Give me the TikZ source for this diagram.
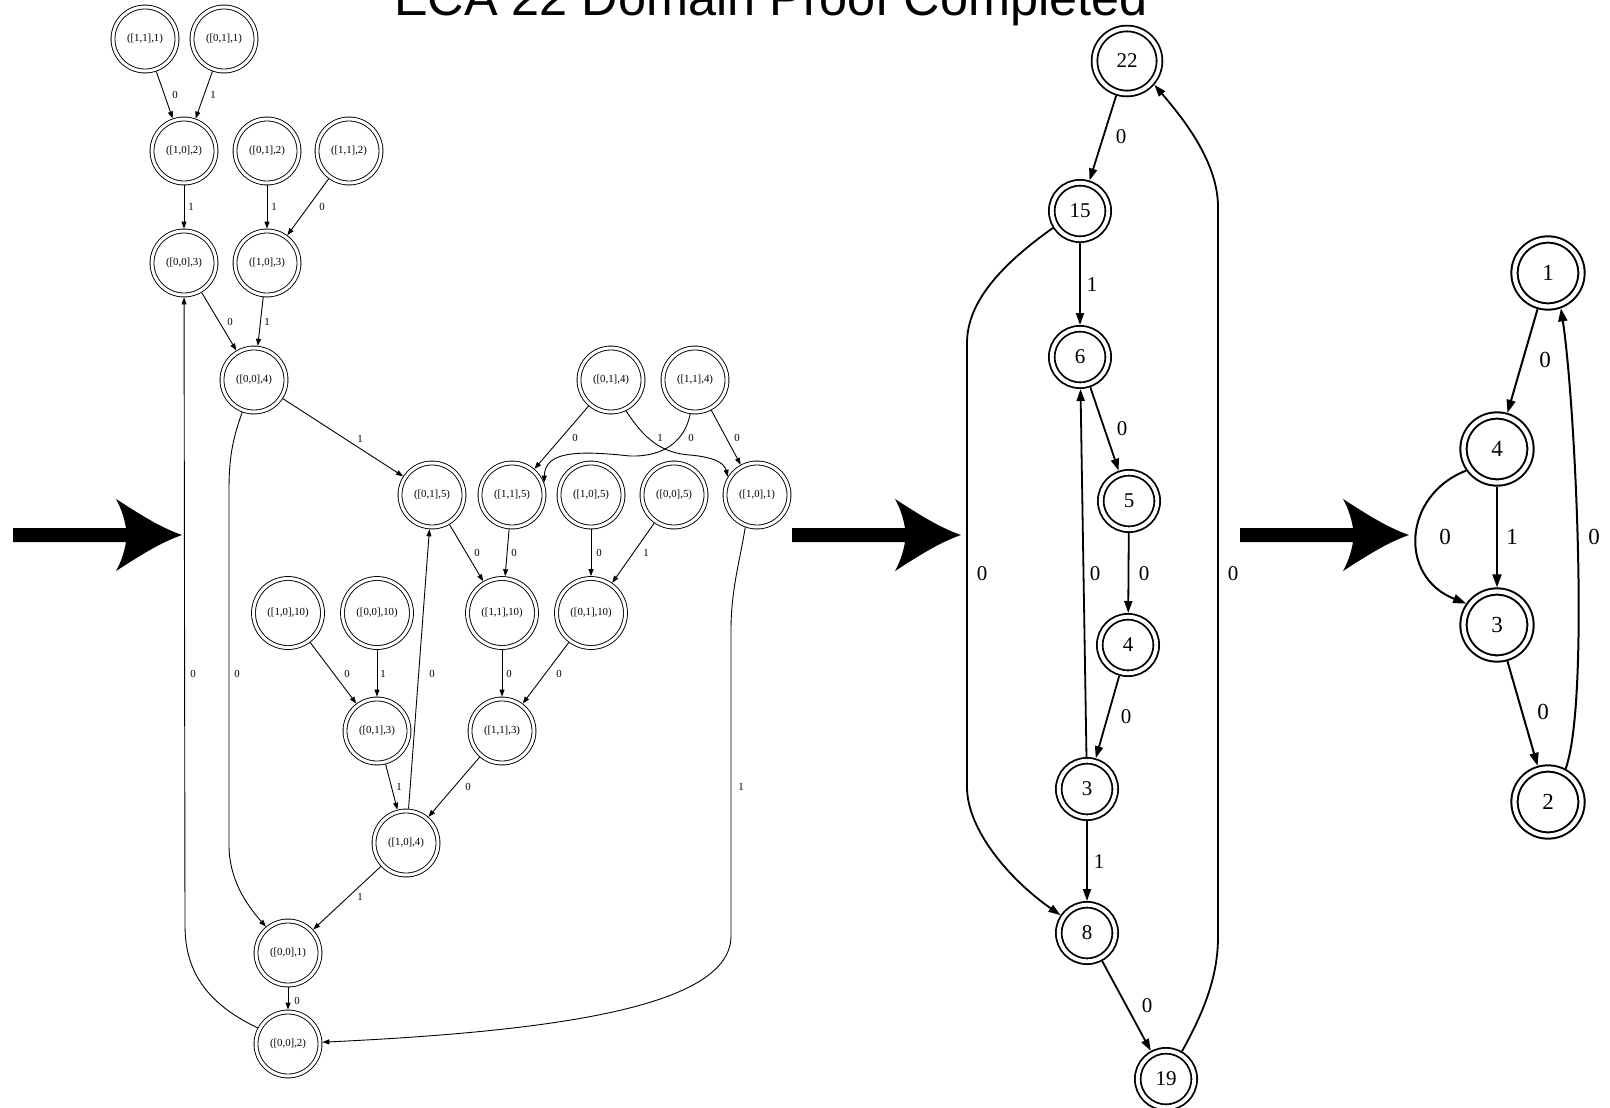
\documentclass[tikz,border=0pt]{standalone}
\usepackage{fontspec}
\setmainfont{Liberation Serif}
\newfontfamily\titlefont{Liberation Sans}
\usetikzlibrary{arrows.meta}
\begin{document}
\begin{tikzpicture}[x=1pt,y=-1pt,
 lnode/.style={circle,draw,double,line width=0.9pt,double distance=3pt,minimum size=64pt,inner sep=0pt,outer sep=2.4pt,font=\fontsize{10.8}{12}\selectfont},
 lnodew/.style={lnode,minimum size=69pt},
 ledge/.style={line width=0.9pt,-{Triangle[length=7pt,width=5pt]}},
 llab/.style={font=\fontsize{10.8}{12}\selectfont,inner sep=0pt},
 mnode/.style={circle,draw,double,line width=1.8pt,double distance=3.9pt,minimum size=56.5pt,inner sep=0pt,outer sep=3.75pt,font=\fontsize{21}{24}\selectfont},
 medge/.style={line width=1.8pt,-{Triangle[length=12pt,width=8pt]}},
 mlab/.style={font=\fontsize{21}{24}\selectfont,inner sep=0pt},
 rnode/.style={circle,draw,double,line width=2pt,double distance=4.3pt,minimum size=67pt,inner sep=0pt,outer sep=4.15pt,font=\fontsize{23}{26}\selectfont},
 redge/.style={line width=2pt,-{Triangle[length=13pt,width=9pt]}},
 rlab/.style={font=\fontsize{23}{26}\selectfont,inner sep=0pt}
]
\useasboundingbox (0,0) rectangle (1610,1108);

% title
\node[font=\titlefont\fontsize{50.4}{58}\selectfont,anchor=base,inner sep=0pt] (title) at (771,16) {ECA 22 Domain Proof Completed};

% big arrows
\foreach \x in {13,792,1240} {
 \fill (\x,528) -- (\x+113,528) .. controls (\x+111,516) and (\x+107,506) .. (\x+103,499)
   .. controls (\x+125,513) and (\x+146,527) .. (\x+169,535)
   .. controls (\x+146,543) and (\x+125,557) .. (\x+103,571)
   .. controls (\x+107,564) and (\x+111,554) .. (\x+113,542) -- (\x,542) -- cycle;
}

% left graph nodes
\node[lnode] (a11x1) at (145,39) {([1,1],1)};
\node[lnode] (a01x1) at (224,39) {([0,1],1)};
\node[lnode] (a10x2) at (184,151) {([1,0],2)};
\node[lnode] (a01x2) at (267,151) {([0,1],2)};
\node[lnode] (a11x2) at (349,151) {([1,1],2)};
\node[lnode] (a00x3) at (184,263) {([0,0],3)};
\node[lnode] (a10x3) at (267,263) {([1,0],3)};
\node[lnode] (a00x4) at (254,380) {([0,0],4)};
\node[lnode] (a01x4) at (611,380) {([0,1],4)};
\node[lnode] (a11x4) at (695,380) {([1,1],4)};
\node[lnode] (a01x5) at (432,495) {([0,1],5)};
\node[lnode] (a11x5) at (512,495) {([1,1],5)};
\node[lnode] (a10x5) at (591,495) {([1,0],5)};
\node[lnode] (a00x5) at (674,495) {([0,0],5)};
\node[lnode] (a10x1) at (757,495) {([1,0],1)};
\node[lnodew] (a10x10) at (288,613) {([1,0],10)};
\node[lnodew] (a00x10) at (377,613) {([0,0],10)};
\node[lnodew] (a11x10) at (502,613) {([1,1],10)};
\node[lnodew] (a01x10) at (591,613) {([0,1],10)};
\node[lnode] (a01x3) at (377,731) {([0,1],3)};
\node[lnode] (a11x3) at (502,731) {([1,1],3)};
\node[lnode] (a10x4) at (406,843) {([1,0],4)};
\node[lnode] (a00x1) at (288,953) {([0,0],1)};
\node[lnode] (a00x2) at (288,1044) {([0,0],2)};

% left graph edges
\draw[ledge] (a11x1) -- (a10x2) node[llab,at={(175,95)}] {0};
\draw[ledge] (a01x1) -- (a10x2) node[llab,at={(213,95)}] {1};
\draw[ledge] (a10x2) -- (a00x3) node[llab,at={(191,207)}] {1};
\draw[ledge] (a01x2) -- (a10x3) node[llab,at={(274,207)}] {1};
\draw[ledge] (a11x2) -- (a10x3) node[llab,at={(322,207)}] {0};
\draw[ledge] (a00x3) -- (a00x4) node[llab,at={(230,322)}] {0};
\draw[ledge] (a10x3) -- (a00x4) node[llab,at={(267,322)}] {1};
\draw[ledge] (a00x4) -- (a01x5) node[llab,at={(360,439)}] {1};
\draw[ledge] (a01x4) -- (a11x5) node[llab,at={(575,438)}] {0};
\draw[ledge] (a01x4.-64) .. controls (645,440) and (662,453) .. (690,455)
  .. controls (712,457) and (724,462) .. (a10x1.148) node[llab,at={(660,438)}] {1};
\draw[ledge] (a11x4.-98) .. controls (685,440) and (665,457) .. (630,456)
  .. controls (575,450) and (545,452) .. (a11x5.21) node[llab,at={(691,438)}] {0};
\draw[ledge] (a11x4) -- (a10x1) node[llab,at={(737,438)}] {0};
\draw[ledge] (a01x5) -- (a11x10) node[llab,at={(477,553)}] {0};
\draw[ledge] (a11x5) -- (a11x10) node[llab,at={(514,553)}] {0};
\draw[ledge] (a10x5) -- (a01x10) node[llab,at={(599,553)}] {0};
\draw[ledge] (a00x5) -- (a01x10) node[llab,at={(646,553)}] {1};
\draw[ledge] (a10x10) -- (a01x3) node[llab,at={(347,674)}] {0};
\draw[ledge] (a00x10) -- (a01x3) node[llab,at={(383,674)}] {1};
\draw[ledge] (a11x10) -- (a11x3) node[llab,at={(509,674)}] {0};
\draw[ledge] (a01x10) -- (a11x3) node[llab,at={(559,674)}] {0};
\draw[ledge] (a10x4) -- (a01x5) node[llab,at={(432,674)}] {0};
\draw[ledge] (a01x3) -- (a10x4) node[llab,at={(399,787)}] {1};
\draw[ledge] (a11x3) -- (a10x4) node[llab,at={(468,787)}] {0};
\draw[ledge] (a10x4) -- (a00x1) node[llab,at={(360,897)}] {1};
\draw[ledge] (a00x1) -- (a00x2) node[llab,at={(297,1001)}] {0};
\draw[ledge] (a00x4.250) .. controls (232,440) and (229,460) .. (229,490) -- (229,845)
  .. controls (229,878) and (245,903) .. (a00x1.130) node[llab,at={(237,674)}] {0};
\draw[ledge] (a00x2.152) .. controls (212,1006) and (185,976) .. (185,926) -- (a00x3)
  node[llab,at={(193,674)}] {0};
\draw[ledge] (a10x1.250) .. controls (740,560) and (731,590) .. (731,630) -- (731,936)
  .. controls (731,1006) and (560,1031) .. (a00x2.3) node[llab,at={(741,787)}] {1};

% middle graph
\node[mnode,minimum size=65pt] (m22) at (1127,61) {22};
\node[mnode] (m15) at (1080,211) {15};
\node[mnode] (m6) at (1080,357) {6};
\node[mnode] (m5) at (1129,501) {5};
\node[mnode] (m4) at (1128,645) {4};
\node[mnode] (m3) at (1087,789) {3};
\node[mnode] (m8) at (1087,933) {8};
\node[mnode] (m19) at (1166,1079) {19};

\draw[medge] (m22) -- (m15) node[mlab,at={(1121,137)}] {0};
\draw[medge] (m15) -- (m6) node[mlab,at={(1092,285)}] {1};
\draw[medge] (m6) -- (m5) node[mlab,at={(1122,429)}] {0};
\draw[medge] (m5) -- (m4) node[mlab,at={(1144,574)}] {0};
\draw[medge] (m4) -- (m3) node[mlab,at={(1126,717)}] {0};
\draw[medge] (m3) -- (m6) node[mlab,at={(1095,574)}] {0};
\draw[medge] (m3) -- (m8) node[mlab,at={(1099,862)}] {1};
\draw[medge] (m8) -- (m19) node[mlab,at={(1147,1006)}] {0};
\draw[medge] (m15.212) .. controls (1005,262) and (967,300) .. (967,343) -- (967,787)
  .. controls (967,830) and (1010,880) .. (m8.146) node[mlab,at={(982,574)}] {0};
\draw[medge] (m19.60) .. controls (1205,1010) and (1218,975) .. (1218,937) -- (1218,207)
  .. controls (1218,160) and (1180,115) .. (m22.-41) node[mlab,at={(1233,574)}] {0};

% right graph
\node[rnode] (r1) at (1548,273) {1};
\node[rnode] (r4) at (1497,449) {4};
\node[rnode] (r3) at (1497,625) {3};
\node[rnode] (r2) at (1548,802) {2};

\draw[redge] (r1) -- (r4) node[rlab,at={(1545,360)}] {0};
\draw[redge] (r4) -- (r3) node[rlab,at={(1512,537)}] {1};
\draw[redge] (r4.215) .. controls (1403,495) and (1398,577) .. (r3.145) node[rlab,at={(1445,537)}] {0};
\draw[redge] (r3) -- (r2) node[rlab,at={(1543,712)}] {0};
\draw[redge] (r2.62) .. controls (1590,700) and (1575,400) .. (r1.-70) node[rlab,at={(1594,537)}] {0};
\end{tikzpicture}
\end{document}
